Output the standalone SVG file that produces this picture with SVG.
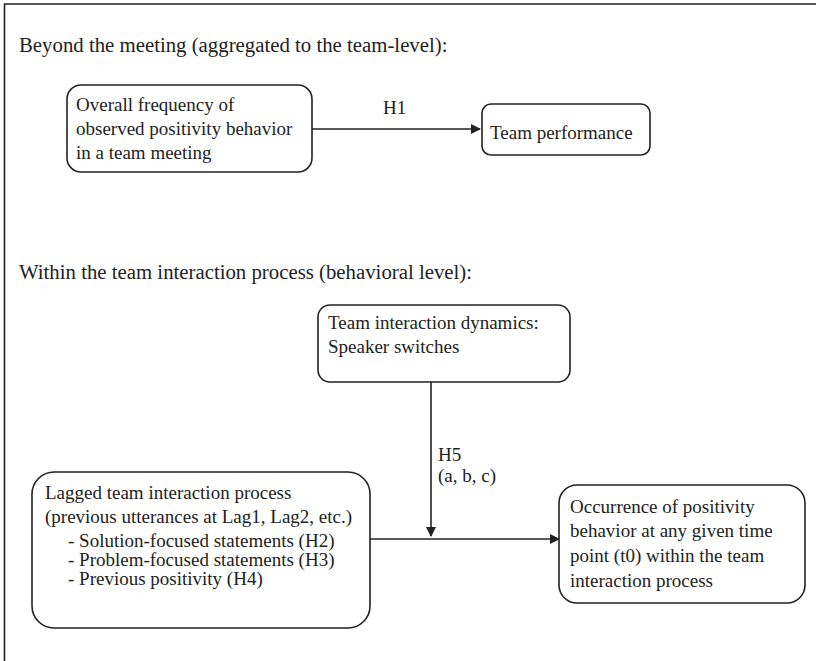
<svg xmlns="http://www.w3.org/2000/svg" width="816" height="661" viewBox="0 0 816 661">
<style>
text{font-family:"Liberation Serif","Times New Roman",serif;font-size:19px;fill:#222}
text.title{font-size:20.8px}
.box{fill:#fff;stroke:#222;stroke-width:1.6}
.conn{stroke:#222;stroke-width:1.6;fill:none}
</style>
<defs>
<marker id="ah" markerWidth="10" markerHeight="10" refX="9" refY="5" orient="auto" markerUnits="userSpaceOnUse">
<path d="M0,0 L10,5 L0,10 Z" fill="#222"/>
</marker>
</defs>
<rect width="816" height="661" fill="#fff"/>
<path d="M4.5,661 V4 H816" fill="none" stroke="#222" stroke-width="1.6"/>
<text class="title" x="19" y="52">Beyond the meeting (aggregated to the team-level):</text>
<text class="title" x="19" y="279">Within the team interaction process (behavioral level):</text>
<g id="connectors">
<line class="conn" x1="312" y1="129" x2="480" y2="129" marker-end="url(#ah)"/>
<text x="383" y="114">H1</text>
<line class="conn" x1="431" y1="382" x2="431" y2="536" marker-end="url(#ah)"/>
<text x="438" y="461">H5</text>
<text x="438" y="482">(a, b, c)</text>
<line class="conn" x1="370" y1="539" x2="559" y2="539" marker-end="url(#ah)"/>
</g>
<g id="n1">
<rect class="box" x="67" y="85" width="245" height="87" rx="14"/>
<text x="76" y="111">Overall frequency of</text>
<text x="76" y="135">observed positivity behavior</text>
<text x="76" y="159">in a team meeting</text>
</g>
<g id="n2">
<rect class="box" x="482" y="104" width="168" height="51" rx="9"/>
<text x="490" y="139">Team performance</text>
</g>
<g id="n3">
<rect class="box" x="318" y="305" width="252" height="77" rx="12"/>
<text x="328" y="329">Team interaction dynamics:</text>
<text x="328" y="353">Speaker switches</text>
</g>
<g id="n4">
<rect class="box" x="32" y="472" width="338" height="156" rx="22"/>
<text x="45" y="499">Lagged team interaction process</text>
<text x="45" y="523">(previous utterances at Lag1, Lag2, etc.)</text>
<text x="68" y="547">- Solution-focused statements (H2)</text>
<text x="68" y="566">- Problem-focused statements (H3)</text>
<text x="68" y="585">- Previous positivity (H4)</text>
</g>
<g id="n5">
<rect class="box" x="559" y="485" width="246" height="118" rx="18"/>
<text x="570" y="513">Occurrence of positivity</text>
<text x="570" y="537">behavior at any given time</text>
<text x="570" y="562">point (t0) within the team</text>
<text x="570" y="587">interaction process</text>
</g>
</svg>
